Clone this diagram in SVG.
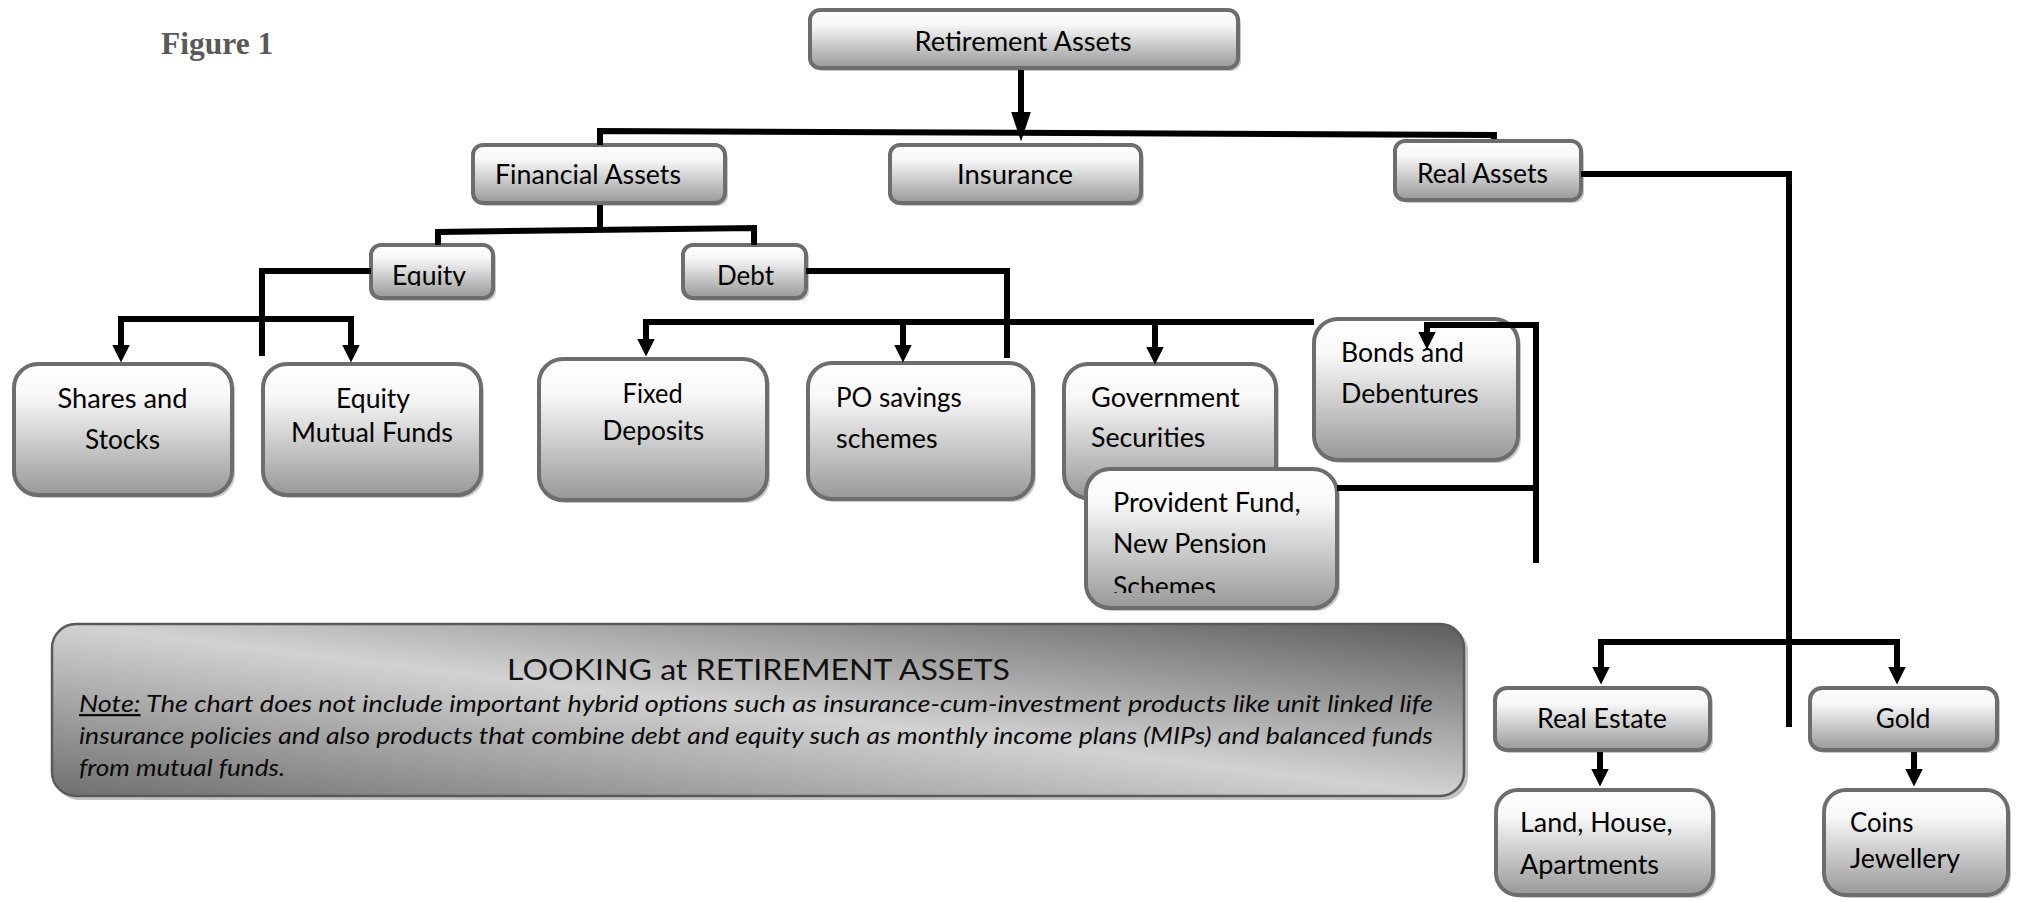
<svg xmlns="http://www.w3.org/2000/svg" width="2022" height="902" viewBox="0 0 2022 902">
<defs>
<style>
.sh{fill:#c9c9c9}
.box{fill:url(#boxg);stroke:#6d6d6d;stroke-width:4}
.t{font-family:Lato,"Liberation Sans",sans-serif;font-size:27px;fill:#000}
.c{text-anchor:middle}
.con{fill:none;stroke:#000;stroke-width:6;stroke-linejoin:miter}
.arr{marker-end:url(#ah)}
.note{font-family:Lato,"Liberation Sans",sans-serif;font-style:italic;font-size:22.5px;fill:#0a0a0a}
</style>
<linearGradient id="boxg" x1="0" y1="0" x2="0" y2="1">
<stop offset="0" stop-color="#ffffff"/>
<stop offset="0.25" stop-color="#f8f8f8"/>
<stop offset="1" stop-color="#989898"/>
</linearGradient>
<linearGradient id="noteg" gradientUnits="userSpaceOnUse" x1="780" y1="539" x2="738" y2="881">
<stop offset="0" stop-color="#5c5c5c"/>
<stop offset="0.5" stop-color="#d2d2d2"/>
<stop offset="1" stop-color="#6e6e6e"/>
</linearGradient>
<marker id="ah" markerUnits="userSpaceOnUse" viewBox="0 0 18 18" refX="0.5" refY="9" markerWidth="18" markerHeight="18" orient="auto">
<path d="M0,0 L18,9 L0,18 Z" fill="#000"/>
</marker>
<marker id="ahb" markerUnits="userSpaceOnUse" viewBox="0 0 30 20" refX="0.5" refY="10" markerWidth="30" markerHeight="20" orient="auto">
<path d="M0,0 L30,10 L0,20 Z" fill="#000"/>
</marker>
<clipPath id="clipEq"><rect x="369" y="243" width="126" height="43"/></clipPath>
<clipPath id="clipPf"><rect x="1084" y="467" width="255" height="126"/></clipPath>
</defs>
<rect width="2022" height="902" fill="#fff"/>

<text x="161" y="54" font-family="'Liberation Serif',serif" font-weight="bold" font-size="31.5" fill="#595959">Figure 1</text>

<g id="retirement">
<rect class="sh" x="813" y="13" width="428" height="58" rx="10"/>
<rect class="box" x="810" y="10" width="428" height="58" rx="10"/>
<text class="t c" x="1023" y="51" font-size="25" textLength="217" lengthAdjust="spacingAndGlyphs">Retirement Assets</text>
</g>
<g id="financial">
<rect class="sh" x="476" y="148" width="252" height="58" rx="10"/>
<rect class="box" x="473" y="145" width="252" height="58" rx="10"/>
<text class="t" x="495" y="184" font-size="25" textLength="186" lengthAdjust="spacingAndGlyphs">Financial Assets</text>
</g>
<g id="insurance">
<rect class="sh" x="893" y="148" width="251" height="58" rx="10"/>
<rect class="box" x="890" y="145" width="251" height="58" rx="10"/>
<text class="t c" x="1015" y="184" font-size="25" textLength="116" lengthAdjust="spacingAndGlyphs">Insurance</text>
</g>
<g id="real-assets">
<rect class="sh" x="1398" y="144" width="186" height="59" rx="10"/>
<rect class="box" x="1395" y="141" width="186" height="59" rx="10"/>
<text class="t" x="1417" y="183" font-size="26" textLength="131" lengthAdjust="spacingAndGlyphs">Real Assets</text>
</g>
<g id="equity">
<rect class="sh" x="374" y="248" width="122" height="53" rx="10"/>
<rect class="box" x="371" y="245" width="122" height="53" rx="10"/>
<text class="t" x="392" y="285" font-size="26" textLength="74" lengthAdjust="spacingAndGlyphs" clip-path="url(#clipEq)">Equity</text>
</g>
<g id="debt">
<rect class="sh" x="686" y="248" width="123" height="53" rx="10"/>
<rect class="box" x="683" y="245" width="123" height="53" rx="10"/>
<text class="t" x="717" y="285" font-size="26" textLength="57" lengthAdjust="spacingAndGlyphs">Debt</text>
</g>
<g id="shares">
<rect class="sh" x="17" y="367" width="218" height="131" rx="24"/>
<rect class="box" x="14" y="364" width="218" height="131" rx="24"/>
<text class="t c" x="122.5" y="408" textLength="130" lengthAdjust="spacingAndGlyphs">Shares and</text>
<text class="t c" x="122.5" y="449" textLength="75" lengthAdjust="spacingAndGlyphs">Stocks</text>
</g>
<g id="equity-mf">
<rect class="sh" x="266" y="367" width="218" height="131" rx="24"/>
<rect class="box" x="263" y="364" width="218" height="131" rx="24"/>
<text class="t c" x="373" y="408" textLength="74" lengthAdjust="spacingAndGlyphs">Equity</text>
<text class="t c" x="372" y="442" textLength="162" lengthAdjust="spacingAndGlyphs">Mutual Funds</text>
</g>
<g id="fixed">
<rect class="sh" x="542" y="362" width="228" height="141" rx="24"/>
<rect class="box" x="539" y="359" width="228" height="141" rx="24"/>
<text class="t c" x="652.6" y="403" textLength="60" lengthAdjust="spacingAndGlyphs">Fixed</text>
<text class="t c" x="653.4" y="440" textLength="101.6" lengthAdjust="spacingAndGlyphs">Deposits</text>
</g>
<g id="po">
<rect class="sh" x="811" y="366" width="225" height="136" rx="24"/>
<rect class="box" x="808" y="363" width="225" height="136" rx="24"/>
<text class="t" x="836" y="407" textLength="125.7" lengthAdjust="spacingAndGlyphs">PO savings</text>
<text class="t" x="836" y="448" textLength="101.6" lengthAdjust="spacingAndGlyphs">schemes</text>
</g>
<g id="gov">
<rect class="sh" x="1067" y="367" width="212" height="134" rx="24"/>
<rect class="box" x="1064" y="364" width="212" height="134" rx="24"/>
<text class="t" x="1091" y="407" textLength="148.8" lengthAdjust="spacingAndGlyphs">Government</text>
<text class="t" x="1091" y="447" textLength="114.3" lengthAdjust="spacingAndGlyphs">Securities</text>
</g>
<g id="bonds">
<rect class="sh" x="1317" y="322" width="204" height="141" rx="24"/>
<rect class="box" x="1314" y="319" width="204" height="141" rx="24"/>
<text class="t" x="1341" y="362" textLength="123" lengthAdjust="spacingAndGlyphs">Bonds and</text>
<text class="t" x="1341" y="403" textLength="137.7" lengthAdjust="spacingAndGlyphs">Debentures</text>
</g>
<g id="pf">
<rect class="sh" x="1089" y="472" width="251" height="139" rx="24"/>
<rect class="box" x="1086" y="469" width="251" height="139" rx="24"/>
<g clip-path="url(#clipPf)">
<text class="t" x="1113" y="512" textLength="187.7" lengthAdjust="spacingAndGlyphs">Provident Fund,</text>
<text class="t" x="1113" y="553" textLength="153.6" lengthAdjust="spacingAndGlyphs">New Pension</text>
<text class="t" x="1113" y="596" textLength="103" lengthAdjust="spacingAndGlyphs">Schemes</text>
</g>
</g>
<g id="real-estate">
<rect class="sh" x="1498" y="691" width="215" height="62" rx="12"/>
<rect class="box" x="1495" y="688" width="215" height="62" rx="12"/>
<text class="t c" x="1602" y="728" textLength="130" lengthAdjust="spacingAndGlyphs">Real Estate</text>
</g>
<g id="gold">
<rect class="sh" x="1813" y="691" width="187" height="62" rx="12"/>
<rect class="box" x="1810" y="688" width="187" height="62" rx="12"/>
<text class="t c" x="1903" y="728" textLength="54.6" lengthAdjust="spacingAndGlyphs">Gold</text>
</g>
<g id="land">
<rect class="sh" x="1499" y="793" width="217" height="105" rx="22"/>
<rect class="box" x="1496" y="790" width="217" height="105" rx="22"/>
<text class="t" x="1520" y="832" textLength="152.5" lengthAdjust="spacingAndGlyphs">Land, House,</text>
<text class="t" x="1520" y="874" textLength="139" lengthAdjust="spacingAndGlyphs">Apartments</text>
</g>
<g id="coins">
<rect class="sh" x="1827" y="793" width="184" height="105" rx="22"/>
<rect class="box" x="1824" y="790" width="184" height="105" rx="22"/>
<text class="t" x="1850" y="832" textLength="63.4" lengthAdjust="spacingAndGlyphs">Coins</text>
<text class="t" x="1850" y="868" textLength="110" lengthAdjust="spacingAndGlyphs">Jewellery</text>
</g>

<g id="note-box">
<rect x="55" y="627" width="1413" height="173" rx="24" fill="#c4c4c4"/>
<rect x="52" y="624" width="1412" height="172" rx="24" fill="url(#noteg)" stroke="#5a5a5a" stroke-width="2.5"/>
<text x="507" y="680" font-family="Lato,'Liberation Sans',sans-serif" font-size="29" fill="#111" textLength="503" lengthAdjust="spacingAndGlyphs">LOOKING at RETIREMENT ASSETS</text>
<text class="note" x="79" y="712" textLength="1354" lengthAdjust="spacingAndGlyphs"><tspan text-decoration="underline">Note:</tspan> The chart does not include important hybrid options such as insurance-cum-investment products like unit linked life</text>
<text class="note" x="79" y="744" textLength="1354" lengthAdjust="spacingAndGlyphs">insurance policies and also products that combine debt and equity such as monthly income plans (MIPs) and balanced funds</text>
<text class="note" x="79" y="776" textLength="206" lengthAdjust="spacingAndGlyphs">from mutual funds.</text>
</g>

<g id="connectors">
<path class="con" d="M1021,70 V112" marker-end="url(#ahb)"/>
<path class="con" d="M600,145 V131 L1494,135 V139"/>
<path class="con" d="M600,205 V230"/>
<path class="con" d="M438,245 V232 L754,228 V245"/>
<path class="con" d="M371,271 H262 V356"/>
<path class="con arr" d="M236,319 H121 V345"/>
<path class="con arr" d="M236,319 H351 V345"/>
<path class="con" d="M806,271 H1007 V358"/>
<path class="con arr" d="M1314,322 H646 V339"/>
<path class="con arr" d="M903,322 V345"/>
<path class="con arr" d="M1155,322 V347"/>
<path class="con arr" d="M1536,563 V325 H1427 V332"/>
<path class="con" d="M1337,488 H1536"/>
<path class="con" d="M1581,174 H1789 V727"/>
<path class="con arr" d="M1789,642 H1601 V667"/>
<path class="con arr" d="M1789,642 H1897 V667"/>
<path class="con arr" d="M1600,752 V769"/>
<path class="con arr" d="M1914,752 V769"/>
</g>
</svg>
